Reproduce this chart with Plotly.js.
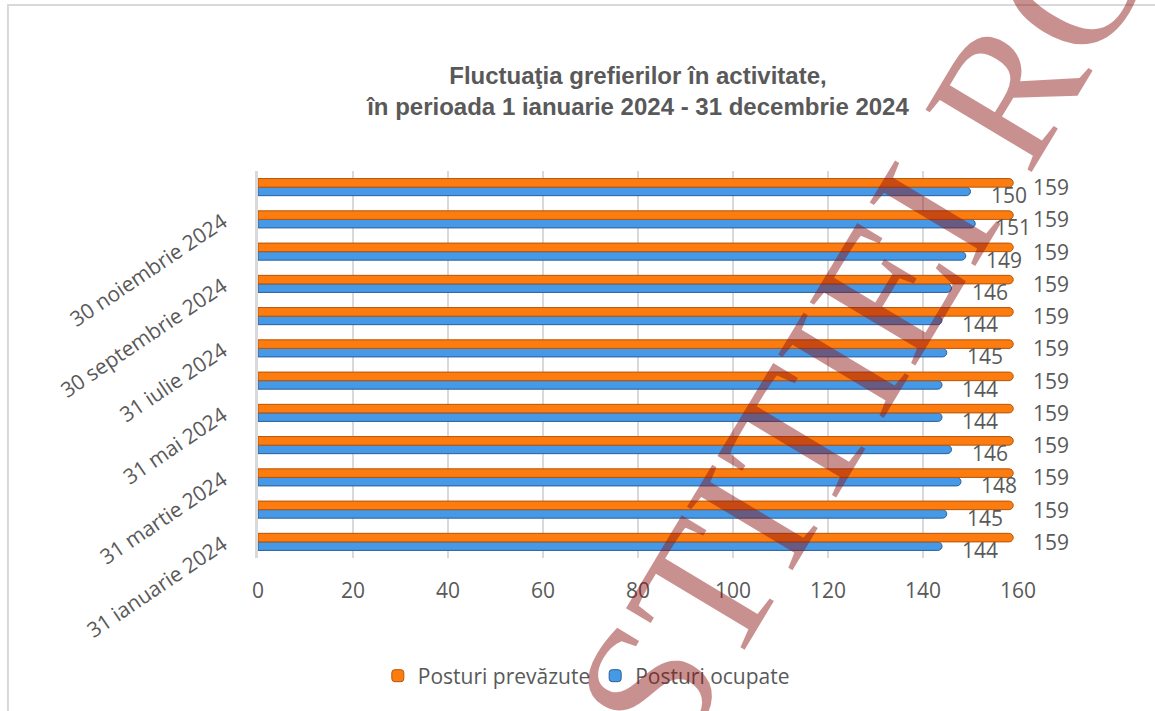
<!DOCTYPE html>
<html>
<head>
<meta charset="utf-8">
<script src="https://cdn.plot.ly/plotly-3.0.1.min.js"></script>
<style>
  html, body { margin: 0; padding: 0; background: #ffffff; }
  #chart { width: 1155px; height: 711px; }
</style>
</head>
<body>
<div id="chart"></div>
<script>
const categories = [
  '31 ianuarie 2024', '29 februarie 2024', '31 martie 2024', '30 aprilie 2024',
  '31 mai 2024', '30 iunie 2024', '31 iulie 2024', '31 august 2024',
  '30 septembrie 2024', '31 octombrie 2024', '30 noiembrie 2024', '31 decembrie 2024'
];
// only every other month is labelled on the axis
const shownCategories = [
  '31 ianuarie 2024', '31 martie 2024', '31 mai 2024',
  '31 iulie 2024', '30 septembrie 2024', '30 noiembrie 2024'
];
const posturiPrevazute = [159, 159, 159, 159, 159, 159, 159, 159, 159, 159, 159, 159];
const posturiOcupate = [144, 145, 148, 146, 144, 144, 145, 144, 146, 149, 151, 150];
const xTicks = [0, 20, 40, 60, 80, 100, 120, 140, 160];

const colors = {
  orange: '#fd7c10',   // Posturi prevazute
  orangeEdge: '#b85406',
  blue: '#4699e6',     // Posturi ocupate
  blueEdge: '#2a5f98',
  text: '#595959',
  grid: '#d9d9d9'
};

const labelFont = { family: 'Open Sans, sans-serif', size: 21, color: colors.text };

function barTrace( name, values, color, edge ) {
  return {
    type: 'bar',
    orientation: 'h',
    name: name,
    x: values,
    y: categories,
    marker: { color: color, line: { color: edge, width: 1 }, cornerradius: '50%' },
    hoverinfo: 'x+name'
  };
}

function valueLabels( values, yShift ) {
  const labels = [];
  for( let i = 0; i < values.length; i++ ) {
    labels.push({
      x: values[i],
      y: categories[i],
      xref: 'x',
      yref: 'y',
      text: String(values[i]),
      showarrow: false,
      xanchor: 'left',
      yanchor: 'middle',
      xshift: 18,
      yshift: yShift,
      font: labelFont
    });
  }
  return labels;
}

const data = [
  barTrace('Posturi ocupate', posturiOcupate, colors.blue, colors.blueEdge),
  barTrace('Posturi prevăzute', posturiPrevazute, colors.orange, colors.orangeEdge)
];

// red document watermark running across the chart
const watermark = {
  xref: 'paper', yref: 'paper',
  x: 0.7987, y: 0.597,
  xanchor: 'center', yanchor: 'middle',
  text: 'STITIEI RO',
  showarrow: false,
  textangle: -59,
  font: { family: 'Liberation Serif, serif', size: 188, color: 'rgba(140,20,20,0.47)' }
};

const annotations = valueLabels(posturiOcupate, -8)
  .concat(valueLabels(posturiPrevazute, 0))
  .concat([watermark]);

const layout = {
  width: 1155,
  height: 711,
  paper_bgcolor: '#ffffff',
  plot_bgcolor: '#ffffff',
  margin: { l: 258, r: 137, t: 171, b: 153 },
  title: {
    text: 'Fluctuaţia grefierilor în activitate,<br>în perioada 1 ianuarie 2024 - 31 decembrie 2024',
    font: { family: 'Liberation Sans, Arial, sans-serif', size: 24, color: colors.text, weight: 'bold' },
    x: 0.5, xref: 'paper', xanchor: 'center',
    y: 0.882, yref: 'container', yanchor: 'middle'
  },
  barmode: 'group',
  bargap: 0.47,
  bargroupgap: 0,
  xaxis: {
    range: [0, 160],
    tickvals: xTicks,
    showgrid: true,
    gridcolor: colors.grid,
    gridwidth: 2,
    zeroline: false,
    showline: false,
    ticks: '',
    ticklabelstandoff: 18,
    tickfont: labelFont,
    fixedrange: true
  },
  yaxis: {
    type: 'category',
    categoryorder: 'array',
    categoryarray: categories,
    range: [-0.5, 11.5],
    tickvals: shownCategories,
    tickangle: -34,
    showgrid: false,
    zeroline: false,
    showline: true,
    linecolor: colors.grid,
    linewidth: 3,
    ticks: '',
    ticklabelstandoff: 28,
    tickfont: labelFont,
    fixedrange: true
  },
  legend: {
    orientation: 'h',
    traceorder: 'reversed',
    x: 0.432, xanchor: 'center',
    y: -0.305, yanchor: 'middle',
    font: labelFont,
    itemwidth: 30
  },
  shapes: [{
    type: 'rect', xref: 'paper', yref: 'paper',
    x0: -0.329, x1: 2, y0: -2, y1: 1.429,
    line: { color: colors.grid, width: 2 },
    fillcolor: 'rgba(0,0,0,0)',
    layer: 'below'
  }],
  annotations: annotations
};

Plotly.newPlot('chart', data, layout, { displayModeBar: false, staticPlot: true });
</script>
</body>
</html>
